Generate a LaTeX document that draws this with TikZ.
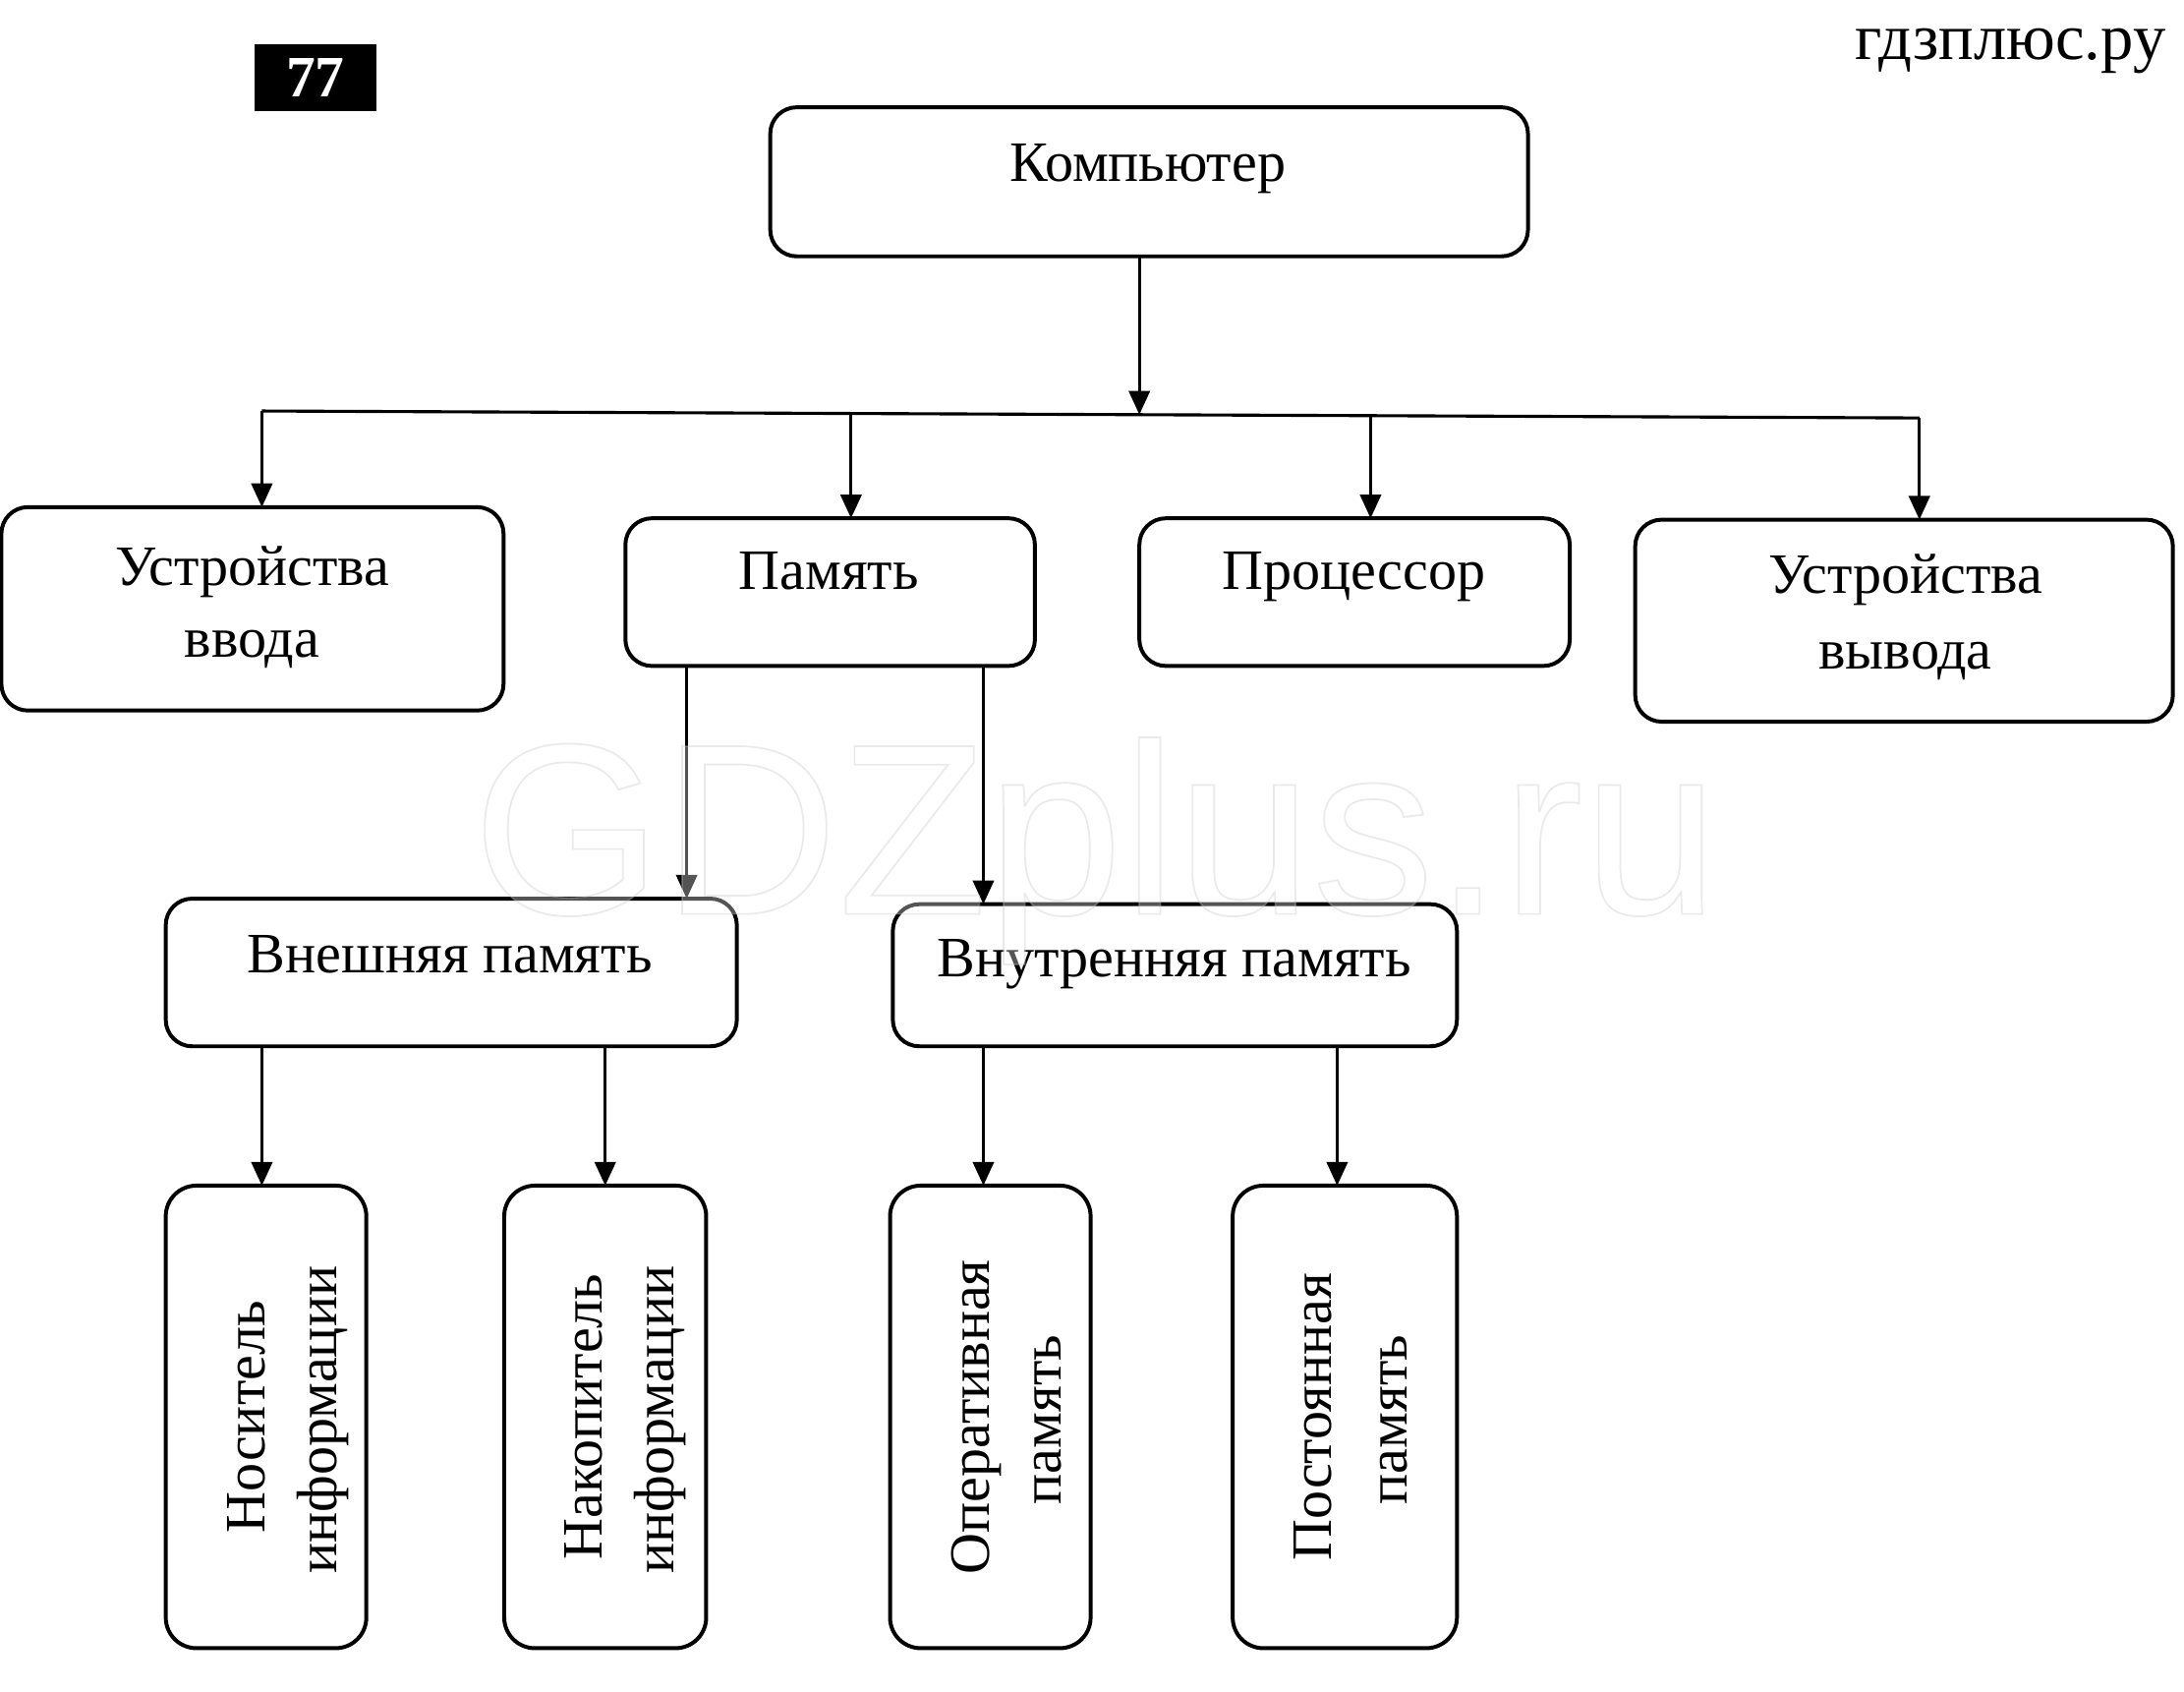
\documentclass[tikz,border=0pt]{standalone}
\usepackage{fontspec}
\setmainfont{Liberation Serif}
\newfontfamily\wmfont{Liberation Sans}
\usetikzlibrary{arrows.meta,calc}
\begin{document}
\begin{tikzpicture}[x=1pt,y=-1pt,
  box/.style={draw, line width=2.8pt, rounded corners=19pt, inner sep=0pt, outer sep=0pt},
  lbl/.style={anchor=base, inner sep=0pt, font=\fontsize{41}{49}\selectfont},
  vlbl/.style={lbl, rotate=90},
  conn/.style={line width=2.2pt},
  arr/.style={conn, -{Triangle[length=17pt,width=15pt]}}]
\useasboundingbox (0,0) rectangle (1568,1214.4);

% boxes
\node[box, minimum width=544pt, minimum height=107pt] (komp) at (825,130.5) {};
\node[box, minimum width=360.5pt, minimum height=146pt] (vvod) at (181.25,437) {};
\node[box, minimum width=294pt, minimum height=106pt] (pam) at (596,425) {};
\node[box, minimum width=309pt, minimum height=106pt] (proc) at (972.5,425) {};
\node[box, minimum width=386pt, minimum height=145pt] (vyvod) at (1367,445.5) {};
\node[box, minimum width=410pt, minimum height=106pt] (vnesh) at (324,698) {};
\node[box, minimum width=405pt, minimum height=102pt] (vnutr) at (843.5,700) {};
\node[box, rounded corners=22pt, minimum width=144pt, minimum height=332pt] (nos) at (191,1017) {};
\node[box, rounded corners=22pt, minimum width=145pt, minimum height=332pt] (nak) at (434.5,1017) {};
\node[box, rounded corners=22pt, minimum width=144pt, minimum height=332pt] (oper) at (711,1017) {};
\node[box, rounded corners=22pt, minimum width=161pt, minimum height=332pt] (post) at (965.5,1017) {};

% number badge and site name
\node[fill=black, minimum width=87pt, minimum height=48pt, inner sep=0pt, text=white,
      font=\bfseries\fontsize{42}{48}\selectfont] (num) at (226.5,56) {77};
\node[anchor=base east, inner sep=0pt, font=\fontsize{47}{56}\selectfont] (site) at (1555,43) {гдзплюс.ру};

% bus
\coordinate (busL) at (188,295);
\coordinate (busR) at (1378,300);
\coordinate (j0) at (818,297.6);
\coordinate (j1) at (611,296.7);
\coordinate (j2) at (984,298.3);
\draw[conn] (busL) -- (busR);
\draw[arr] (komp.south -| j0) -- (j0);
\draw[arr] (busL) -- (busL |- vvod.north);
\draw[arr] (j1) -- (j1 |- pam.north);
\draw[arr] (j2) -- (j2 |- proc.north);
\draw[arr] (busR) -- (busR |- vyvod.north);

% memory branches
\draw[arr] ([xshift=-103pt]pam.south) -- ([xshift=-103pt]pam.south |- vnesh.north);
\draw[arr] ([xshift=110pt]pam.south) -- ([xshift=110pt]pam.south |- vnutr.north);
\draw[arr] ([xshift=-3pt]nos.north |- vnesh.south) -- ([xshift=-3pt]nos.north);
\draw[arr] (nak.north |- vnesh.south) -- (nak.north);
\draw[arr] ([xshift=-5pt]oper.north |- vnutr.south) -- ([xshift=-5pt]oper.north);
\draw[arr] ([xshift=-5.5pt]post.north |- vnutr.south) -- ([xshift=-5.5pt]post.north);

% labels
\node[lbl] (tkomp) at (824,130) {Компьютер};
\node[lbl] (tvv1) at (181,420) {Устройства};
\node[lbl] (tvv2) at (181,472) {ввода};
\node[lbl] (tpam) at (595,423) {Память};
\node[lbl] (tproc) at (972,423) {Процессор};
\node[lbl] (tvy1) at (1368,426) {Устройства};
\node[lbl] (tvy2) at (1368,480) {вывода};
\node[lbl] (tvnesh) at (323,698) {Внешняя память};
\node[lbl] (tvnutr) at (843,701) {Внутренняя память};

\node[vlbl] (tnos1) at (190,1017) {Носитель};
\node[vlbl] (tnos2) at (242,1019) {информации};
\node[vlbl] (tnak1) at (432,1017) {Накопитель};
\node[vlbl] (tnak2) at (484,1019) {информации};
\node[vlbl] (toper1) at (710,1017) {Оперативная};
\node[vlbl] (toper2) at (762,1019) {память};
\node[vlbl] (tpost1) at (956,1017) {Постоянная};
\node[vlbl] (tpost2) at (1010,1019) {память};

% watermark
\node[anchor=base west, inner sep=0pt, text depth=0pt, text=white, text opacity=0.33,
      font=\wmfont\fontsize{175}{175}\selectfont] (wm) at (339,656)
  {\special{pdf:literal direct 2 Tr 1.2 w 0.75 G}GDZplus.ru\special{pdf:literal direct 0 Tr}};
\end{tikzpicture}
\end{document}
